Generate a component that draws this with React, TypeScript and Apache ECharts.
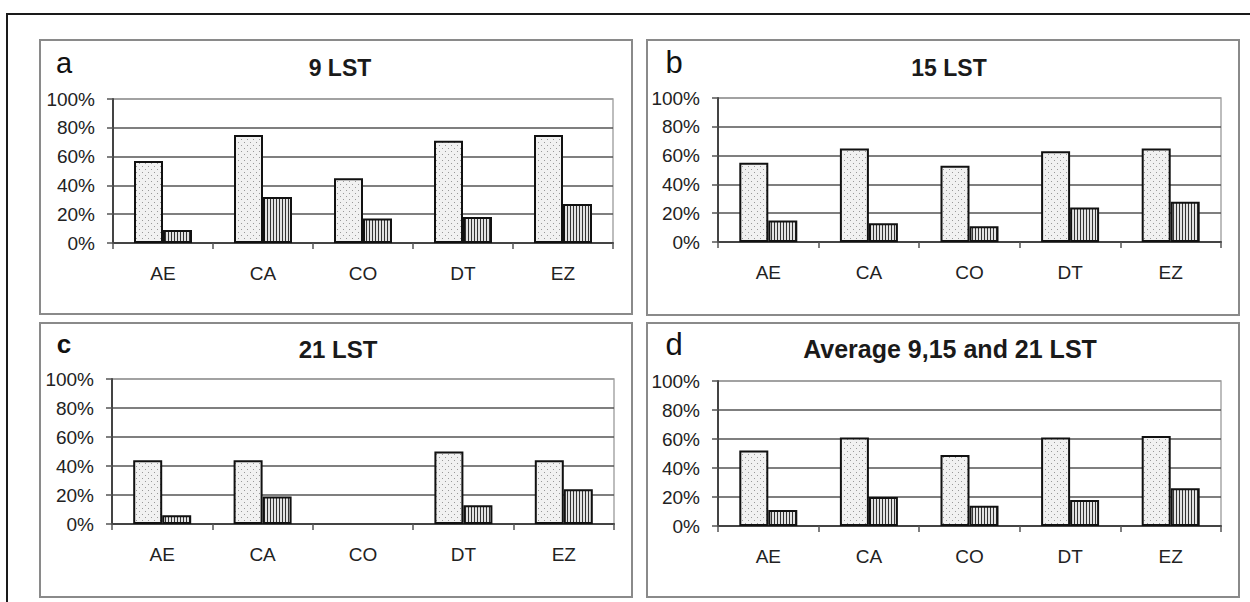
import React, { useEffect, useRef } from "react";
import * as echarts from "echarts";

const categories = ["AE", "CA", "CO", "DT", "EZ"];
const yTicks = [0, 20, 40, 60, 80, 100];

const panelLetters = ["a", "b", "c", "d"];
const panelTitles = ["9 LST", "15 LST", "21 LST", "Average 9,15 and 21 LST"];

// dotted bars (first series) and striped bars (second series), in percent
const dotted9 = [57, 75, 45, 71, 75];
const striped9 = [9, 32, 17, 18, 27];
const dotted15 = [55, 65, 53, 63, 65];
const striped15 = [15, 13, 11, 24, 28];
const dotted21 = [44, 44, null, 50, 44];
const striped21 = [6, 19, null, 13, 24];
const dottedAvg = [52, 61, 49, 61, 62];
const stripedAvg = [11, 20, 14, 18, 26];

const FONT = "'Liberation Sans', Arial, sans-serif";

function makeDots() {
  const c = document.createElement("canvas");
  c.width = 6;
  c.height = 6;
  const ctx = c.getContext("2d")!;
  ctx.fillStyle = "#f1f1f1";
  ctx.fillRect(0, 0, 6, 6);
  ctx.fillStyle = "#999999";
  ctx.fillRect(1, 1, 1, 1);
  ctx.fillRect(4, 4, 1, 1);
  return c;
}

function makeStripes() {
  const c = document.createElement("canvas");
  c.width = 3;
  c.height = 3;
  const ctx = c.getContext("2d")!;
  ctx.fillStyle = "#e2e2e2";
  ctx.fillRect(0, 0, 3, 3);
  ctx.fillStyle = "#333333";
  ctx.fillRect(0, 0, 1, 3);
  return c;
}

export default function App() {
  const ref = useRef<HTMLDivElement>(null);

  useEffect(() => {
    if (!ref.current) return;
    const chart = echarts.init(ref.current, undefined, { renderer: "svg" });

    const dots = makeDots();
    const stripes = makeStripes();
    const dotColor: any = { image: dots, repeat: "repeat", imageWidth: 6, imageHeight: 6 };
    const stripeColor: any = { image: stripes, repeat: "repeat", imageWidth: 3, imageHeight: 3 };

    const grids = [
      { left: 113, top: 99, width: 500, height: 144 },
      { left: 718, top: 98, width: 503, height: 144 },
      { left: 112, top: 379, width: 502, height: 145 },
      { left: 718, top: 381, width: 503, height: 145 },
    ];
    const boxes = [
      { x: 40, y: 40, w: 592, h: 274 },
      { x: 647, y: 40, w: 592, h: 275 },
      { x: 40, y: 323, w: 592, h: 274 },
      { x: 647, y: 323, w: 592, h: 274 },
    ];
    const letterPos = [
      { x: 64, y: 63, font: `normal 29px ${FONT}` },
      { x: 674, y: 62, font: `normal 31px ${FONT}` },
      { x: 64, y: 344, font: `bold 26px ${FONT}` },
      { x: 674, y: 344, font: `normal 31px ${FONT}` },
    ];
    const titlePos = [
      { x: 340, y: 68, size: 23 },
      { x: 949, y: 68, size: 23 },
      { x: 338, y: 349, size: 24 },
      { x: 950, y: 349, size: 25 },
    ];
    const dottedSets = [dotted9, dotted15, dotted21, dottedAvg];
    const stripedSets = [striped9, striped15, striped21, stripedAvg];

    const graphic: any[] = [
      {
        type: "rect",
        shape: { x: 7, y: 14, width: 1400, height: 800 },
        style: { fill: "none", stroke: "#1a1a1a", lineWidth: 2 },
        z: 0,
      },
    ];
    boxes.forEach((b) => {
      graphic.push({
        type: "rect",
        shape: { x: b.x, y: b.y, width: b.w, height: b.h },
        style: { fill: "none", stroke: "#8a8a8a", lineWidth: 2 },
        z: 0,
      });
    });
    panelLetters.forEach((l, i) => {
      graphic.push({
        type: "text",
        x: letterPos[i].x,
        y: letterPos[i].y,
        style: {
          text: l,
          font: letterPos[i].font,
          fill: "#111",
          textAlign: "center",
          textVerticalAlign: "middle",
        },
      });
    });
    panelTitles.forEach((t, i) => {
      graphic.push({
        type: "text",
        x: titlePos[i].x,
        y: titlePos[i].y,
        style: {
          text: t,
          font: `bold ${titlePos[i].size}px ${FONT}`,
          fill: "#1a1a1a",
          textAlign: "center",
          textVerticalAlign: "middle",
        },
      });
    });

    const xAxis = grids.map((_, i) => ({
      type: "category",
      gridIndex: i,
      data: categories,
      boundaryGap: true,
      axisLine: { show: true, lineStyle: { color: "#444", width: 2 } },
      axisTick: { show: true, alignWithLabel: false, length: 6, lineStyle: { color: "#555", width: 1.5 } },
      axisLabel: { color: "#222", fontSize: 19, fontFamily: FONT, margin: 21 },
      splitLine: { show: false },
    }));

    const yAxis = grids.map((_, i) => ({
      type: "value",
      gridIndex: i,
      min: yTicks[0],
      max: yTicks[yTicks.length - 1],
      interval: 20,
      axisLine: { show: true, lineStyle: { color: "#444", width: 2 } },
      axisTick: { show: true, length: 6, lineStyle: { color: "#555", width: 1.5 } },
      axisLabel: {
        color: "#222",
        fontSize: 19,
        fontFamily: FONT,
        margin: 18,
        formatter: (v: number) => `${v}%`,
      },
      splitLine: {
        show: true,
        lineStyle: { color: ["#555", "#555", "#555", "#555", "#555", "#9a9a9a"], width: 1.5 },
      },
    }));

    const series: any[] = [];
    grids.forEach((_, i) => {
      series.push({
        type: "bar",
        xAxisIndex: i,
        yAxisIndex: i,
        data: dottedSets[i],
        barWidth: 29,
        barGap: "0%",
        itemStyle: { color: dotColor, borderColor: "#111", borderWidth: 2 },
      });
      series.push({
        type: "bar",
        xAxisIndex: i,
        yAxisIndex: i,
        data: stripedSets[i],
        barWidth: 29,
        barGap: "0%",
        itemStyle: { color: stripeColor, borderColor: "#111", borderWidth: 2 },
      });
    });

    chart.setOption({
      animation: false,
      backgroundColor: "#ffffff",
      grid: grids.map((g) => ({
        ...g,
        show: true,
        borderColor: "#a8a8a8",
        borderWidth: 1.5,
        backgroundColor: "transparent",
        containLabel: false,
      })),
      xAxis,
      yAxis,
      series,
      graphic,
    });

    return () => chart.dispose();
  }, []);

  return (
    <div
      ref={ref}
      style={{ position: "absolute", left: 0, top: 0, width: 1250, height: 602, background: "#fff" }}
    />
  );
}
